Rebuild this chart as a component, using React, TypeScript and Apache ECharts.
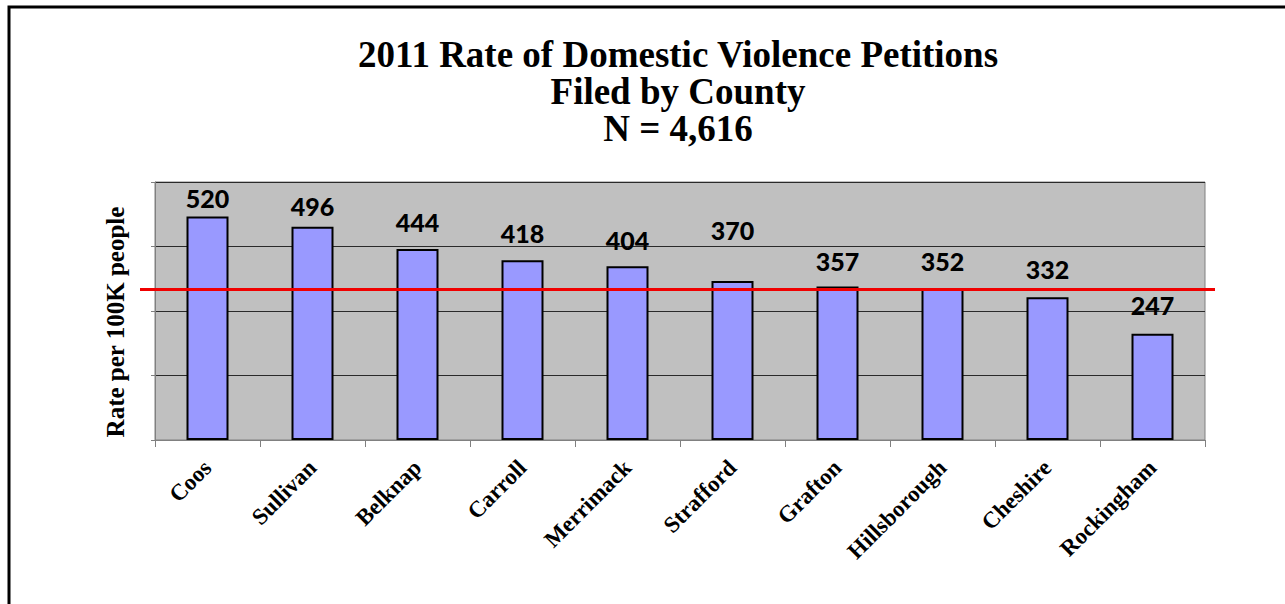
import React, { useEffect, useRef } from "react";
import * as echarts from "echarts";

const counties = ["Coos", "Sullivan", "Belknap", "Carroll", "Merrimack", "Strafford", "Grafton", "Hillsborough", "Cheshire", "Rockingham"];
const rates = [520, 496, 444, 418, 404, 370, 357, 352, 332, 247];
const stateAverage = 350;
const titleLines = ["2011 Rate of Domestic Violence Petitions", "Filed by County", "N = 4,616"];
const yAxisTitle = "Rate per 100K people";

// label vertical nudges (style only, px)
const labelNudge = [9, 7, 0, 0, 1, -23, 2, 0, -1, -1];

export default function App() {
  const ref = useRef<HTMLDivElement>(null);
  useEffect(() => {
    document.body.style.margin = "0";
    const chart = echarts.init(ref.current!, null, { renderer: "svg" });
    const option: any = {
      animation: false,
      backgroundColor: "#ffffff",
      title: {
        text: titleLines.join("\n"),
        left: 673,
        top: 31,
        textAlign: "center",
        textStyle: {
          fontFamily: "Liberation Serif",
          fontWeight: "bold",
          fontSize: 37,
          lineHeight: 37,
          color: "#000",
        },
      },
      grid: {
        left: 155,
        top: 182,
        right: 80,
        bottom: 164,
        show: true,
        backgroundColor: "#C0C0C0",
        borderColor: "#808080",
        borderWidth: 1,
      },
      xAxis: {
        type: "category",
        data: counties,
        axisLine: { lineStyle: { color: "#808080", width: 1 } },
        axisTick: { show: true, alignWithLabel: false, length: 7, lineStyle: { color: "#808080" } },
        axisLabel: {
          rotate: 45,
          interval: 0,
          margin: 24,
          fontFamily: "Liberation Serif",
          fontWeight: "bold",
          fontSize: 23,
          color: "#000",
        },
      },
      yAxis: {
        type: "value",
        min: 0,
        max: 600,
        interval: 150,
        name: yAxisTitle,
        nameLocation: "middle",
        nameRotate: 90,
        nameGap: 27,
        nameTextStyle: {
          fontFamily: "Liberation Serif",
          fontWeight: "bold",
          fontSize: 25,
          color: "#000",
          padding: [0, 22, 0, 0],
        },
        axisLabel: { show: false },
        axisLine: { show: true, lineStyle: { color: "#808080" } },
        axisTick: { show: true, length: 4, lineStyle: { color: "#808080" } },
        splitLine: { show: true, lineStyle: { color: "#2a2a2a", width: 1 } },
      },
      series: [
        {
          type: "bar",
          barWidth: "40%",
          data: rates.map((v, i) => ({ value: v, label: { offset: [0, labelNudge[i]] } })),
          itemStyle: { color: "#9999FF", borderColor: "#000000", borderWidth: 2 },
          label: {
            show: true,
            position: "top",
            distance: 15,
            fontFamily: "Lato",
            fontWeight: 900,
            fontSize: 25,
            color: "#000",
          },
        },
      ],
    };
    chart.setOption(option);
    const yAvg = chart.convertToPixel({ yAxisIndex: 0 }, stateAverage) as number;
    chart.setOption({
      graphic: [
        {
          type: "rect",
          shape: { x: 9, y: 7, width: 1400, height: 800 },
          style: { fill: "none", stroke: "#000", lineWidth: 3 },
          silent: true,
        },
        {
          type: "line",
          shape: { x1: 140, y1: yAvg, x2: 1215, y2: yAvg },
          style: { stroke: "#F00000", lineWidth: 3 },
          silent: true,
          z: 100,
        },
      ],
    });
    return () => chart.dispose();
  }, []);
  return <div ref={ref} style={{ width: 1285, height: 604 }} />;
}
